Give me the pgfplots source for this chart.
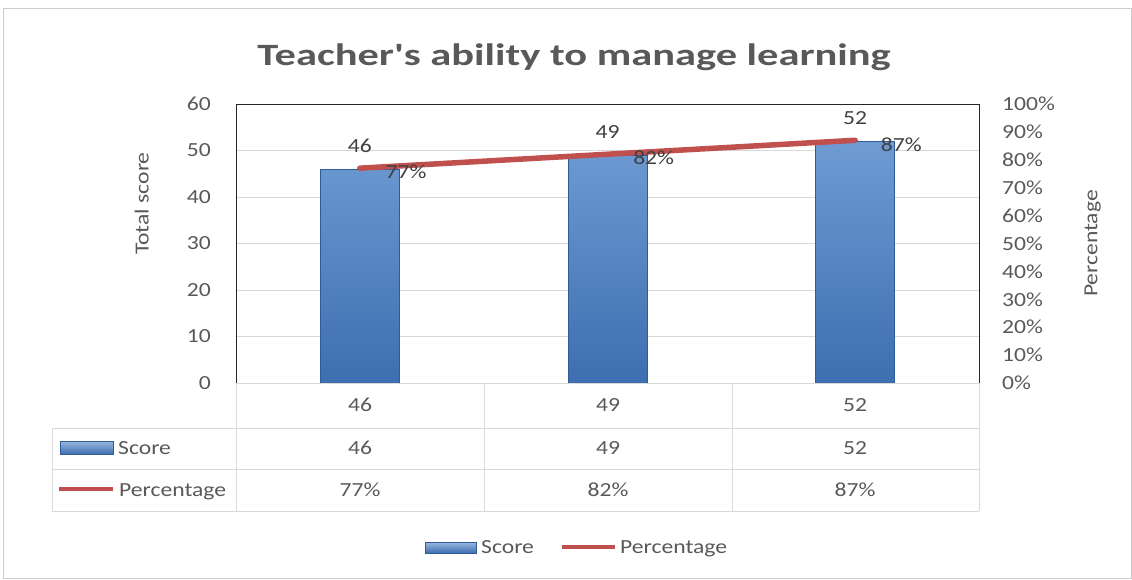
\documentclass[border=0pt]{standalone}
\usepackage{fontspec}
\setmainfont{Carlito}[FakeStretch=1.18]
\newfontfamily\titlefont{Carlito}[FakeStretch=1.37]
\usepackage{pgfplots}
\pgfplotsset{compat=1.18}
\definecolor{txt}{HTML}{595959}
\definecolor{lbl}{HTML}{404040}
\definecolor{gridc}{HTML}{D9D9D9}
\definecolor{tbl}{HTML}{D9D9D9}
\definecolor{barTop}{HTML}{6E9BD2}
\definecolor{barBot}{HTML}{3D6EB0}
\definecolor{barEdge}{HTML}{2F5B96}
\definecolor{lineRed}{HTML}{C0504D}
\newcommand{\fs}{\fontsize{20}{24}\selectfont}
\begin{document}
\begin{tikzpicture}
\path[use as bounding box] (0,0) rectangle (1132pt,-579pt);
\draw[gray!40, line width=1pt] (3pt,-8pt) rectangle (1131pt,-578pt);
\node[font=\titlefont\fontsize{31}{36}\selectfont\bfseries, text=txt, anchor=base] at (574pt,-65pt) {Teacher\char"27 s ability to manage learning};

\begin{axis}[
  at={(236pt,-383pt)}, anchor=south west,
  width=743pt, height=279pt, scale only axis,
  xmin=-0.5, xmax=2.5, ymin=0, ymax=60,
  ytick={0,10,...,60}, xtick=\empty,
  ymajorgrids, grid style={gridc, line width=0.8pt},
  axis line style={draw=none}, major tick length=0pt,
  tick label style={font=\fs, text=txt},
  /pgf/number format/assume math mode=true,
  yticklabel style={anchor=east, inner sep=0pt, xshift=-25pt},
  ylabel={Total score},
  ylabel style={at={(axis description cs:-0.127,0.643)}, anchor=center, font=\fs, text=txt},
  clip=false,
]
\addplot[ybar, bar width=79pt, draw=barEdge, line width=0.6pt, top color=barTop, bottom color=barBot,
  nodes near coords,
  every node near coord/.append style={font=\fs, text=lbl, anchor=center, yshift=23.5pt}]
  coordinates {(0,46) (1,49) (2,52)};
\draw[black!85, line width=1pt] (rel axis cs:0,0) -- (rel axis cs:0,1) -- (rel axis cs:1,1) -- (rel axis cs:1,0);
\end{axis}

\begin{axis}[
  at={(236pt,-383pt)}, anchor=south west,
  width=743pt, height=279pt, scale only axis,
  xmin=-0.5, xmax=2.5, ymin=0, ymax=100,
  axis y line*=right, axis x line=none,
  ytick={0,10,...,100},
  yticklabels={0\%,10\%,20\%,30\%,40\%,50\%,60\%,70\%,80\%,90\%,100\%},
  axis line style={draw=none}, major tick length=0pt,
  tick label style={font=\fs, text=txt},
  /pgf/number format/assume math mode=true,
  yticklabel style={anchor=west, inner sep=0pt, xshift=23pt},
  ylabel={Percentage},
  ylabel style={at={(axis description cs:1.153,0.5)}, anchor=center, rotate=0, font=\fs, text=txt},
  clip=false,
]
\addplot[lineRed, line width=5.5pt, line cap=round, point meta=y,
  nodes near coords={\pgfmathprintnumber{\pgfplotspointmeta}\%},
  every node near coord/.append style={font=\fs, text=lbl, anchor=west, inner sep=0pt, xshift=23pt, yshift=-4pt}]
  coordinates {(0,77) (1,82) (2,87)};
\end{axis}

% data table
\begin{scope}[tbl, line width=1pt]
\draw (236pt,-383pt) -- (979pt,-383pt);
\draw (52pt,-428pt) -- (979pt,-428pt);
\draw (52pt,-469pt) -- (979pt,-469pt);
\draw (52pt,-511pt) -- (979pt,-511pt);
\draw (52pt,-428pt) -- (52pt,-511pt);
\draw (236pt,-383pt) -- (236pt,-511pt);
\draw (484pt,-383pt) -- (484pt,-511pt);
\draw (732pt,-383pt) -- (732pt,-511pt);
\draw (979pt,-383pt) -- (979pt,-511pt);
\end{scope}
\begin{scope}[every node/.style={font=\fs, text=txt, anchor=base, inner sep=0pt}]
\node at (360pt,-411.5pt) {46};
\node at (608pt,-411.5pt) {49};
\node at (855pt,-411.5pt) {52};
\node at (360pt,-454.5pt) {46};
\node at (608pt,-454.5pt) {49};
\node at (855pt,-454.5pt) {52};
\node at (360pt,-496.5pt) {77\%};
\node at (608pt,-496.5pt) {82\%};
\node at (855pt,-496.5pt) {87\%};
\node[anchor=base west] at (118pt,-454.5pt) {Score};
\node[anchor=base west] at (119pt,-496.5pt) {Percentage};
\node[anchor=base west] at (481pt,-553.5pt) {Score};
\node[anchor=base west] at (620pt,-553.5pt) {Percentage};
\end{scope}
\shade[top color=barTop!70!white, bottom color=barBot, draw=barEdge, line width=0.6pt] (60pt,-441pt) rectangle (113pt,-454pt);
\draw[lineRed, line width=4pt] (59pt,-489pt) -- (113pt,-489pt);
\shade[top color=barTop!70!white, bottom color=barBot, draw=barEdge, line width=0.6pt] (425pt,-542pt) rectangle (476pt,-553pt);
\draw[lineRed, line width=4pt] (562pt,-547pt) -- (615pt,-547pt);
\end{tikzpicture}
\end{document}
